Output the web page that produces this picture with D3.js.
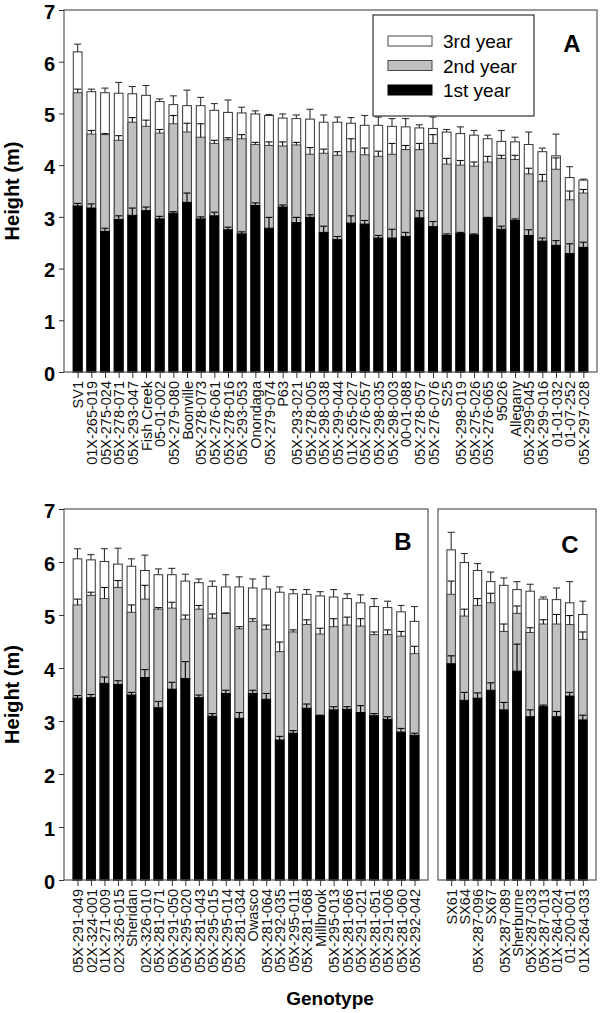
<!DOCTYPE html>
<html><head><meta charset="utf-8">
<script src="https://cdn.jsdelivr.net/npm/d3@7"></script>
<style>body{margin:0;background:#fff}svg{display:block}</style>
</head><body><svg id="c" width="600" height="1013"></svg>
<script>
// ---------- DATA ----------
const genotypesA = ["SV1","01X-265-019","05X-275-024","05X-278-071","05X-293-047","Fish Creek","05-01-002","05X-279-080","Boonville","05X-278-073","05X-276-061","05X-278-016","05X-293-053","Onondaga","05X-279-074","P63","05X-293-021","05X-278-005","05X-298-038","05X-299-044","01X-265-027","05X-276-057","05X-298-035","05X-298-003","00-01-088","05X-278-057","05X-276-076","S25","05X-298-019","05X-275-026","05X-276-065","95026","Allegany","05X-299-045","05X-299-016","01-01-032","01-07-252","05X-297-028"];
const year1A = [3.21,3.17,2.72,2.95,3.03,3.12,2.96,3.07,3.28,2.96,3.02,2.75,2.67,3.22,2.78,3.19,2.89,2.99,2.70,2.56,2.88,2.86,2.59,2.59,2.62,2.98,2.81,2.64,2.68,2.65,2.98,2.76,2.93,2.64,2.53,2.45,2.29,2.41];
const year2A = [5.40,4.60,4.59,4.48,4.83,4.75,4.62,4.80,4.64,4.54,4.42,4.49,4.51,4.40,4.38,4.37,4.39,4.21,4.23,4.19,4.26,4.20,4.17,4.21,4.30,4.30,4.42,4.02,4.00,3.98,4.06,4.13,4.11,3.83,3.69,3.92,3.33,3.46];
const year3A = [6.19,5.42,5.40,5.39,5.38,5.35,5.23,5.17,5.15,5.15,5.06,5.02,5.01,4.99,4.96,4.91,4.90,4.89,4.83,4.83,4.81,4.77,4.77,4.75,4.74,4.72,4.71,4.64,4.61,4.58,4.51,4.46,4.45,4.40,4.26,4.18,3.76,3.71];
const err1A = [0.05,0.08,0.06,0.07,0.14,0.07,0.05,0.03,0.18,0.04,0.07,0.05,0.04,0.05,0.21,0.04,0.10,0.05,0.12,0.06,0.14,0.07,0.05,0.17,0.08,0.14,0.10,0.03,0.02,0.02,0.01,0.06,0.03,0.11,0.06,0.09,0.19,0.10];
const err2A = [0.07,0.07,0.02,0.09,0.09,0.12,0.07,0.16,0.17,0.26,0.06,0.04,0.08,0.04,0.07,0.08,0.05,0.13,0.08,0.07,0.25,0.13,0.10,0.21,0.08,0.12,0.17,0.11,0.09,0.08,0.11,0.06,0.08,0.11,0.13,0.22,0.17,0.07];
const err3A = [0.15,0.05,0.09,0.21,0.14,0.19,0.05,0.17,0.30,0.16,0.13,0.24,0.11,0.06,0.02,0.08,0.07,0.19,0.14,0.10,0.11,0.19,0.16,0.15,0.16,0.06,0.22,0.05,0.13,0.09,0.07,0.21,0.09,0.24,0.07,0.42,0.21,0.02];

const genotypesB = ["05X-291-049","02X-324-001","01X-271-009","02X-326-015","Sheridan","02X-326-010","05X-281-071","05X-291-050","05X-295-020","05X-281-043","05X-295-015","05X-295-014","05X-281-034","Owasco","05X-281-064","05X-292-035","05X-295-011","05X-281-068","Millbrook","05X-295-013","05X-281-066","05X-291-021","05X-281-051","05X-291-006","05X-281-060","05X-292-042"];
const year1B = [3.43,3.44,3.71,3.69,3.49,3.82,3.25,3.60,3.80,3.44,3.09,3.52,3.05,3.52,3.41,2.64,2.77,3.24,3.10,3.21,3.22,3.16,3.10,3.03,2.79,2.73];
const year2B = [5.19,5.37,5.31,5.52,5.05,5.30,5.11,5.13,4.92,5.11,4.94,5.03,4.74,4.88,4.73,4.31,4.68,4.82,4.64,4.78,4.81,4.79,4.63,4.63,4.60,4.27];
const year3B = [6.06,6.04,6.01,5.96,5.92,5.84,5.76,5.76,5.64,5.61,5.54,5.53,5.53,5.51,5.49,5.43,5.40,5.39,5.36,5.34,5.31,5.23,5.16,5.14,5.06,4.88];
const err1B = [0.05,0.06,0.12,0.07,0.05,0.15,0.12,0.13,0.32,0.05,0.05,0.06,0.11,0.06,0.11,0.07,0.05,0.08,0.01,0.06,0.05,0.13,0.04,0.05,0.07,0.04];
const err2B = [0.11,0.06,0.21,0.13,0.14,0.26,0.03,0.11,0.08,0.07,0.08,0.01,0.04,0.05,0.08,0.18,0.04,0.09,0.11,0.15,0.15,0.14,0.05,0.09,0.09,0.14];
const err3B = [0.19,0.10,0.24,0.30,0.14,0.29,0.11,0.12,0.13,0.07,0.10,0.23,0.19,0.17,0.24,0.10,0.08,0.09,0.08,0.14,0.09,0.15,0.15,0.12,0.12,0.28];

const genotypesC = ["SX61","SX64","05X-287-096","SX67","05X-287-089","Sherburne","05X-287-033","05X-287-013","01X-264-024","01-200-001","01X-264-033"];
const year1C = [4.08,3.39,3.43,3.58,3.21,3.94,3.08,3.27,3.08,3.47,3.02];
const year2C = [5.39,4.98,5.18,5.23,4.69,5.03,4.67,4.83,4.83,4.82,4.54];
const year3C = [6.23,5.99,5.84,5.63,5.56,5.48,5.45,5.30,5.29,5.23,5.01];
const err1C = [0.15,0.15,0.10,0.14,0.14,0.51,0.13,0.03,0.10,0.07,0.09];
const err2C = [0.25,0.13,0.13,0.18,0.14,0.14,0.09,0.08,0.18,0.17,0.14];
const err3C = [0.33,0.17,0.13,0.18,0.14,0.15,0.13,0.04,0.22,0.40,0.25];

const yTicks = [0,1,2,3,4,5,6,7];
const legendLabels = ["3rd year","2nd year","1st year"];

// ---------- DRAWING ----------
const svg = d3.select("#c");
const FONT = "'Liberation Sans', Arial, sans-serif";
const fills = {y3:"#ffffff", y2:"#c0c0c0", y1:"#000000"};
const frameColor = "#555";

function panel(cfg){
  const g = svg.append("g");
  const x = d3.scalePoint().domain(cfg.names).range([cfg.left, cfg.right]).padding(1);
  const y = d3.scaleLinear().domain([0,7]).range([cfg.bottom, cfg.top]);
  const bw = x.step()*0.64;
  const cap = 7;
  const series = [
    {v:cfg.y3, e:cfg.e3, fill:fills.y3, stroke:"#333", ec:"#333"},
    {v:cfg.y2, e:cfg.e2, fill:fills.y2, stroke:"#444", ec:"#111"},
    {v:cfg.y1, e:cfg.e1, fill:fills.y1, stroke:"#000", ec:"#000"}
  ];
  series.forEach(s=>{
    g.append("g").selectAll("rect").data(cfg.names).join("rect")
      .attr("x", d=>x(d)-bw/2)
      .attr("y", (d,i)=>y(s.v[i]))
      .attr("width", bw)
      .attr("height", (d,i)=>y(0)-y(s.v[i]))
      .attr("fill", s.fill).attr("stroke", s.stroke).attr("stroke-width", 1);
  });
  series.forEach(s=>{
    const eg = g.append("g").attr("stroke", s.ec).attr("stroke-width", 1.1);
    eg.selectAll("line.v").data(cfg.names).join("line").attr("class","v")
      .attr("x1", d=>x(d)).attr("x2", d=>x(d))
      .attr("y1", (d,i)=>y(s.v[i])).attr("y2", (d,i)=>y(s.v[i]+s.e[i]));
    eg.selectAll("line.c").data(cfg.names).join("line").attr("class","c")
      .attr("x1", d=>x(d)-cap/2).attr("x2", d=>x(d)+cap/2)
      .attr("y1", (d,i)=>y(s.v[i]+s.e[i])).attr("y2", (d,i)=>y(s.v[i]+s.e[i]));
  });
  // frame
  g.append("rect").attr("x", cfg.left).attr("y", cfg.top)
    .attr("width", cfg.right-cfg.left).attr("height", cfg.bottom-cfg.top)
    .attr("fill","none").attr("stroke", frameColor).attr("stroke-width", 1.2);
  // x axis
  const xa = g.append("g").attr("transform", `translate(0,${cfg.bottom})`)
    .call(d3.axisBottom(x).tickSize(6).tickSizeOuter(0));
  xa.select(".domain").remove();
  xa.selectAll(".tick line").attr("stroke", "#333");
  xa.selectAll(".tick text")
    .attr("font-family", FONT).attr("font-size", 14.5).attr("fill","#111")
    .attr("text-anchor","end")
    .attr("transform","rotate(-90)")
    .attr("x", -9).attr("y", 0).attr("dy","0.36em");
  // y axis
  const ya = g.append("g").attr("transform", `translate(${cfg.left},0)`)
    .call(d3.axisLeft(y).tickValues(yTicks).tickSize(cfg.showY ? 5 : 0).tickSizeOuter(0).tickFormat(d3.format("d")));
  ya.select(".domain").remove();
  ya.selectAll(".tick line").attr("stroke", "#333");
  if (cfg.showY) {
    ya.selectAll(".tick text").attr("font-family", FONT).attr("font-size", 20)
      .attr("font-weight","bold").attr("fill","#000").attr("x", -9).attr("y", 2);
    svg.append("text")
      .attr("transform", `translate(19,${(cfg.top+cfg.bottom)/2}) rotate(-90)`)
      .attr("text-anchor","middle")
      .attr("font-family", FONT).attr("font-size", 20).attr("font-weight","bold")
      .text("Height (m)");
  } else {
    ya.selectAll(".tick text").remove();
  }
  // panel letter
  svg.append("text").attr("x", cfg.lx).attr("y", cfg.ly).attr("text-anchor","middle")
    .attr("font-family", FONT).attr("font-size", 24).attr("font-weight","bold").text(cfg.label);
  return {x, y};
}

panel({names:genotypesA, y1:year1A, y2:year2A, y3:year3A, e1:err1A, e2:err2A, e3:err3A,
  left:64, right:597, top:10, bottom:372, showY:true, label:"A", lx:572, ly:52});
panel({names:genotypesB, y1:year1B, y2:year2B, y3:year3B, e1:err1B, e2:err2B, e3:err3B,
  left:64, right:428, top:509, bottom:880, showY:true, label:"B", lx:403, ly:550});
panel({names:genotypesC, y1:year1C, y2:year2C, y3:year3C, e1:err1C, e2:err2C, e3:err3C,
  left:438, right:596, top:509, bottom:880, showY:false, label:"C", lx:570, ly:553});

// legend (panel A)
const lg = svg.append("g");
lg.append("rect").attr("x", 373).attr("y", 15).attr("width", 161).attr("height", 101)
  .attr("fill","#fff").attr("stroke","#333").attr("stroke-width", 1.2);
const legFills = [fills.y3, fills.y2, fills.y1];
legendLabels.forEach((t,i)=>{
  const yy = 36 + i*24.5;
  lg.append("rect").attr("x", 388).attr("y", yy).attr("width", 44).attr("height", 10)
    .attr("fill", legFills[i]).attr("stroke", i===2 ? "#000" : "#444").attr("stroke-width", 1);
  lg.append("text").attr("x", 443).attr("y", yy+12).attr("font-family", FONT)
    .attr("font-size", 19).attr("fill","#000").text(t);
});

// x axis title
svg.append("text").attr("x", 330).attr("y", 1005).attr("text-anchor","middle")
  .attr("font-family", FONT).attr("font-size", 19).attr("font-weight","bold").text("Genotype");
</script>
</body></html>
